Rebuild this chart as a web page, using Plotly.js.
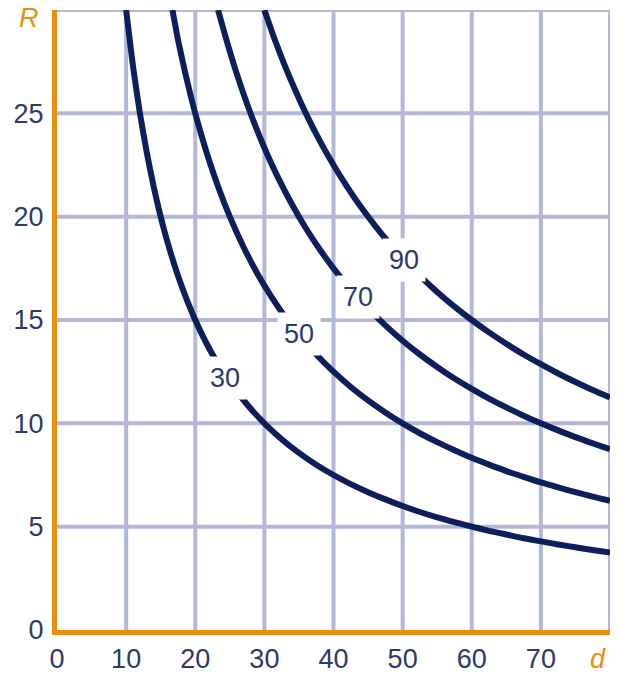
<!DOCTYPE html>
<html>
<head>
<meta charset="utf-8">
<script src="https://cdn.plot.ly/plotly-3.0.1.min.js"></script>
<style>html,body{margin:0;padding:0;background:#fff;}#chart{width:621px;height:675px;}</style>
</head>
<body>
<div id="chart"></div>
<script>
// Curve values (d on x, R on y)
const d30 = [10, 11, 12, 13, 14, 15, 16, 17.5, 19, 20.5, 22.5, 25, 27.5, 30, 32.5, 35, 37.5, 40, 42.5, 45, 47.5, 50, 52.5, 55, 57.5, 60, 62.5, 65, 67.5, 70, 72.5, 75, 77.5, 80];
const R30 = [30, 27.27, 25, 23.08, 21.43, 20, 18.75, 17.14, 15.79, 14.63, 13.33, 12, 10.91, 10, 9.23, 8.57, 8, 7.5, 7.06, 6.67, 6.32, 6, 5.71, 5.45, 5.22, 5, 4.8, 4.62, 4.44, 4.29, 4.14, 4, 3.87, 3.75];

const d50 = [16.7, 17.5, 18.5, 19.5, 20.5, 22, 23.5, 25, 27, 29, 31, 33, 35, 37.5, 40, 42.5, 45, 47.5, 50, 52.5, 55, 57.5, 60, 62.5, 65, 67.5, 70, 72.5, 75, 77.5, 80];
const R50 = [30, 28.57, 27.03, 25.64, 24.39, 22.73, 21.28, 20, 18.52, 17.24, 16.13, 15.15, 14.29, 13.33, 12.5, 11.76, 11.11, 10.53, 10, 9.52, 9.09, 8.7, 8.33, 8, 7.69, 7.41, 7.14, 6.9, 6.67, 6.45, 6.25];

const d70 = [23.3, 24.5, 26, 27.5, 29, 30.5, 32, 34, 36, 38, 40, 42.5, 45, 47.5, 50, 52.5, 55, 57.5, 60, 62.5, 65, 67.5, 70, 72.5, 75, 77.5, 80];
const R70 = [30, 28.57, 26.92, 25.45, 24.14, 22.95, 21.88, 20.59, 19.44, 18.42, 17.5, 16.47, 15.56, 14.74, 14, 13.33, 12.73, 12.17, 11.67, 11.2, 10.77, 10.37, 10, 9.66, 9.33, 9.03, 8.75];

const d90 = [30, 31.5, 33, 34.5, 36, 38, 40, 42, 44, 46, 48, 50, 52.5, 55, 57.5, 60, 62.5, 65, 67.5, 70, 72.5, 75, 77.5, 80];
const R90 = [30, 28.57, 27.27, 26.09, 25, 23.68, 22.5, 21.43, 20.45, 19.57, 18.75, 18, 17.14, 16.36, 15.65, 15, 14.4, 13.85, 13.33, 12.86, 12.41, 12, 11.61, 11.25];

const curveLabels = ["30", "50", "70", "90"];
const labelD = [24.3, 35.0, 43.5, 50.2];
const labelR = [12.2, 14.3, 16.1, 17.9];

const xTicks = [0, 10, 20, 30, 40, 50, 60, 70];
const yTicks = [0, 5, 10, 15, 20, 25];

const navy = "#0c1f5c";
const textCol = "#2c3a6a";
const orange = "#e98d0c";
const gridCol = "#b3b8d7";
const fontFam = "Liberation Sans, Arial, sans-serif";

const series = [[d30, R30], [d50, R50], [d70, R70], [d90, R90]];
const traces = series.map(s => ({
  x: s[0], y: s[1], type: "scatter", mode: "lines",
  line: {color: navy, width: 6, shape: "spline", smoothing: 0.6},
  hoverinfo: "skip", showlegend: false, cliponaxis: true
}));

const annotations = curveLabels.map((t, i) => ({
  x: labelD[i], y: labelR[i], xref: "x", yref: "y", text: t, showarrow: false,
  font: {family: fontFam, size: 27, color: textCol},
  bgcolor: "#ffffff", borderpad: 6
}));
annotations.push({
  x: 0, y: 30, xref: "x", yref: "y", text: "<i>R</i>", showarrow: false,
  xanchor: "right", xshift: -16, yshift: -8,
  font: {family: fontFam, size: 27, color: orange}
});
annotations.push({
  x: 78.3, y: 0, xref: "x", yref: "paper", text: "<i>d</i>", showarrow: false,
  yanchor: "top", yshift: -12,
  font: {family: fontFam, size: 27, color: orange}
});

const layout = {
  width: 621, height: 675,
  margin: {l: 57, r: 11, t: 10, b: 45},
  paper_bgcolor: "#ffffff", plot_bgcolor: "#ffffff",
  font: {family: fontFam, size: 27, color: textCol},
  xaxis: {
    range: [0, 80], tickvals: xTicks, ticktext: xTicks.map(String),
    showgrid: false, zeroline: false,
    showline: true, linecolor: orange, linewidth: 5,
    ticks: "", ticklabelstandoff: 1, fixedrange: true
  },
  yaxis: {
    range: [0, 30], tickvals: yTicks, ticktext: yTicks.map(String),
    showgrid: false, zeroline: false,
    showline: true, linecolor: orange, linewidth: 5,
    ticks: "", ticklabelstandoff: 3, fixedrange: true
  },
  shapes: [],
  annotations: annotations
};

// grid lines at tick positions (plus outer frame at 80 and 30)
const gridX = [10, 20, 30, 40, 50, 60, 70, 80];
const gridY = [5, 10, 15, 20, 25, 30];
gridX.forEach(v => layout.shapes.push({type: "line", xref: "x", yref: "y", x0: v, x1: v, y0: 0, y1: 30, layer: "below", line: {color: gridCol, width: 4}}));
gridY.forEach(v => layout.shapes.push({type: "line", xref: "x", yref: "y", x0: 0, x1: 80, y0: v, y1: v, layer: "below", line: {color: gridCol, width: 4}}));

Plotly.newPlot("chart", traces, layout, {displayModeBar: false, staticPlot: true});
</script>
</body>
</html>
